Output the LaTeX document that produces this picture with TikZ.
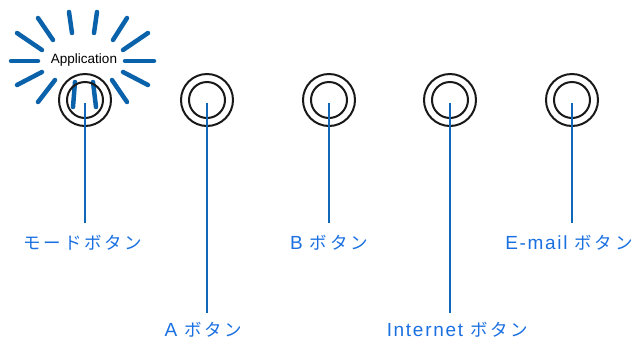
\documentclass[tikz,border=0pt]{standalone}
\usepackage{fontspec}
\setmainfont{Liberation Sans}
\newfontfamily\lablat[LetterSpace=9]{Liberation Sans}
\newfontfamily\labjp[LetterSpace=16]{Noto Sans CJK JP}
\definecolor{raycol}{HTML}{0A62AA}
\definecolor{linecol}{HTML}{1068B8}
\definecolor{labcol}{HTML}{1A70E0}
\newcommand{\lat}[1]{{\lablat\fontsize{19}{21}\selectfont #1}}
\newcommand{\jp}[1]{{\labjp\fontsize{17.5}{21}\selectfont #1}}
\begin{document}
\begin{tikzpicture}[x=1pt,y=-1pt]
\tikzset{
  ray/.style={draw=raycol,line width=4.5pt,line cap=round},
  outerring/.style={circle,draw=black!90,line width=2pt,minimum size=52pt,inner sep=0pt},
  innerring/.style={circle,draw=black!90,line width=2pt,minimum size=36pt,inner sep=0pt},
  conn/.style={draw=linecol,line width=2pt},
  lab/.style={text=labcol,inner sep=0pt,anchor=base},
}
\useasboundingbox (0,0) rectangle (633,341);
% burst
\draw[ray] (69,12) -- (72,33);
\draw[ray] (97,12) -- (94,33);
\draw[ray] (38,18) -- (53,40);
\draw[ray] (127,18) -- (113,40);
\draw[ray] (17,33) -- (42,50);
\draw[ray] (148,33) -- (123,50);
\draw[ray] (11,61) -- (38,61);
\draw[ray] (125,61) -- (154,61);
\draw[ray] (17,85) -- (42,72);
\draw[ray] (148,85) -- (123,72);
\draw[ray] (38,102) -- (55,80);
\draw[ray] (127,102) -- (112,80);
\draw[ray] (73,107) -- (75,82);
\draw[ray] (96,107) -- (93,82);
\node (app) at (84,60) {\fontsize{13.5}{16}\selectfont Application};
% buttons
\foreach \n/\x in {m/85,a/207,b/329,i/450,e/572}{
  \node[outerring] (o\n) at (\x,100) {};
  \node[innerring] (r\n) at (\x,100) {};
  \coordinate (c\n) at (\x,103);
}
% labels
\node[lab] (lm) at (83,249) {\jp{モードボタン}};
\node[lab] (la) at (203.5,336) {\lat{A}\hspace{7pt}\jp{ボタン}};
\node[lab] (lb) at (329,249) {\lat{B}\hspace{7pt}\jp{ボタン}};
\node[lab] (li) at (457.5,336) {\lat{Internet}\hspace{7pt}\jp{ボタン}};
\node[lab] (le) at (569,249) {\lat{E-mail}\hspace{7pt}\jp{ボタン}};
% connectors
\draw[conn] (cm) -- (85,223);
\draw[conn] (ca) -- (207,313);
\draw[conn] (cb) -- (329,223);
\draw[conn] (ci) -- (450,313);
\draw[conn] (ce) -- (572,223);
\end{tikzpicture}
\end{document}
